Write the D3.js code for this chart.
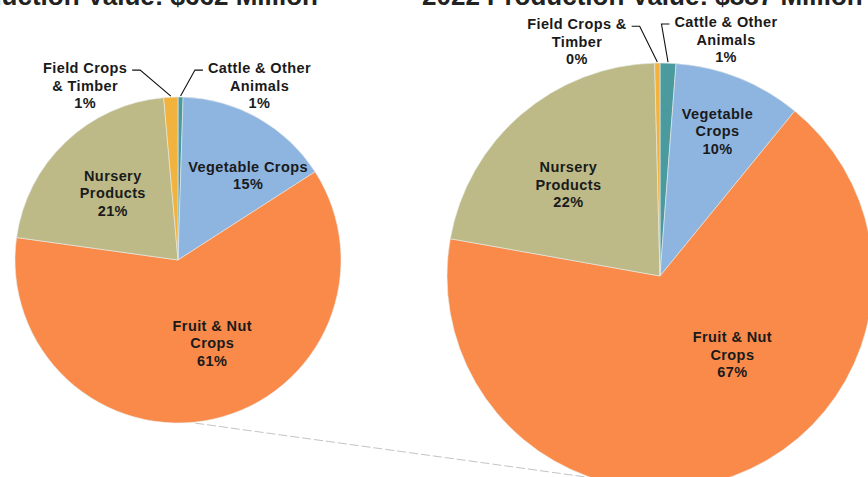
<!DOCTYPE html>
<html>
<head>
<meta charset="utf-8">
<script src="https://cdn.jsdelivr.net/npm/d3@7"></script>
<style>
  body { margin: 0; background: #fff; }
  svg { display: block; font-family: "Liberation Sans", Arial, sans-serif; }
  .lbl { font-size: 14.5px; font-weight: bold; fill: #1a1a1a; letter-spacing: 0.4px; }
  .title { font-size: 26px; font-weight: bold; fill: #222; }
</style>
</head>
<body>
<div class="chart"></div>
<script>
var width = 868;
var height = 477;

// categories, clockwise from 12 o'clock
var categories = ["Cattle & Other Animals", "Vegetable Crops", "Fruit & Nut Crops", "Nursery Products", "Field Crops & Timber"];
var colors = ["#4b9a9e", "#8eb4e0", "#f98a4a", "#bdba88", "#f2b23e"];

// share of production value, percent
var values2012 = [0.5, 15.4, 61.3, 21.4, 1.4];
var values2022 = [1.2, 9.7, 66.9, 21.8, 0.4];

var titles = ["2012 Production Value: $662 Million", "2022 Production Value: $887 Million"];

// label text lines (without percent) for each pie
var labelLines2012 = [["Cattle & Other", "Animals"], ["Vegetable Crops"], ["Fruit & Nut", "Crops"], ["Nursery", "Products"], ["Field Crops", "& Timber"]];
var labelLines2022 = [["Cattle & Other", "Animals"], ["Vegetable", "Crops"], ["Fruit & Nut", "Crops"], ["Nursery", "Products"], ["Field Crops &", "Timber"]];

// layout: pie geometry and label placement (fractions of radius from the centre)
var pies = [
  { cx: 178, cy: 260, r: 163, values: values2012, lines: labelLines2012,
    spots: [[0.50, -1.07], [0.43, -0.52], [0.21, 0.51], [-0.40, -0.41], [-0.57, -1.07]] },
  { cx: 660, cy: 276, r: 213, values: values2022, lines: labelLines2022,
    spots: [[0.31, -1.11], [0.27, -0.68], [0.34, 0.37], [-0.43, -0.43], [-0.39, -1.10]] }
];

var svg = d3.select(".chart").append("svg")
  .attr("width", width)
  .attr("height", height);

var color = d3.scaleOrdinal().domain(categories).range(colors);

var pie = d3.pie().sort(null).value(function(d) { return d.value; });

// connector between the two pies (pie-of-pie style)
function polar(p, deg, rr) {
  var a = deg * Math.PI / 180;
  return [p.cx + rr * Math.sin(a), p.cy - rr * Math.cos(a)];
}
var c1 = polar(pies[0], 174, pies[0].r + 1);
var c2 = polar(pies[1], 200, pies[1].r + 1);
svg.append("line")
  .attr("x1", c1[0]).attr("y1", c1[1])
  .attr("x2", c2[0]).attr("y2", c2[1])
  .attr("stroke", "#c4c4c4")
  .attr("stroke-width", 1)
  .attr("stroke-dasharray", "9 3");

// titles, cut off by the top edge as in the scan
svg.append("text").attr("class", "title")
  .attr("x", 318).attr("y", 5).attr("text-anchor", "end")
  .text(titles[0]);
svg.append("text").attr("class", "title")
  .attr("x", 422).attr("y", 5)
  .text(titles[1]);

pies.forEach(function(p) {
  var data = categories.map(function(c, i) { return { key: c, value: p.values[i], lines: p.lines[i], spot: p.spots[i] }; });
  var arcs = pie(data);
  var arc = d3.arc().innerRadius(0).outerRadius(p.r);
  var edge = d3.arc().innerRadius(p.r).outerRadius(p.r);

  var g = svg.append("g").attr("transform", "translate(" + p.cx + "," + p.cy + ")");

  g.selectAll("path.slice")
    .data(arcs)
    .enter().append("path")
      .attr("class", "slice")
      .attr("d", arc)
      .attr("fill", function(d) { return color(d.data.key); })
      .attr("stroke", "#e8ecea")
      .attr("stroke-width", 0.6);

  var lineH = 17.5;
  arcs.forEach(function(d) {
    var lines = d.data.lines.concat([Math.round(d.data.value) + "%"]);
    var x = d.data.spot[0] * p.r;
    var y0 = d.data.spot[1] * p.r - (lines.length - 1) * lineH / 2;
    var t = g.append("text").attr("class", "lbl").attr("text-anchor", "middle");
    lines.forEach(function(s, k) {
      t.append("tspan")
        .attr("x", x)
        .attr("y", y0 + k * lineH)
        .attr("dy", "0.35em")
        .text(s);
    });

    // leader lines for the tiny slices outside the pie
    if (d.data.spot[1] < -1) {
      var w = t.select("tspan").node().getComputedTextLength();
      var end = edge.centroid(d);
      var right = x < end[0];
      var sx = right ? x + w / 2 + 5 : x - w / 2 - 5;
      var ex = right ? sx + 8 : sx - 8;
      g.append("polyline")
        .attr("points", [[sx, y0 + 2], [ex, y0 + 2], [end[0], end[1] - 1]].join(" "))
        .attr("fill", "none")
        .attr("stroke", "#111")
        .attr("stroke-width", 1.1);
    }
  });
});
</script>
</body>
</html>
